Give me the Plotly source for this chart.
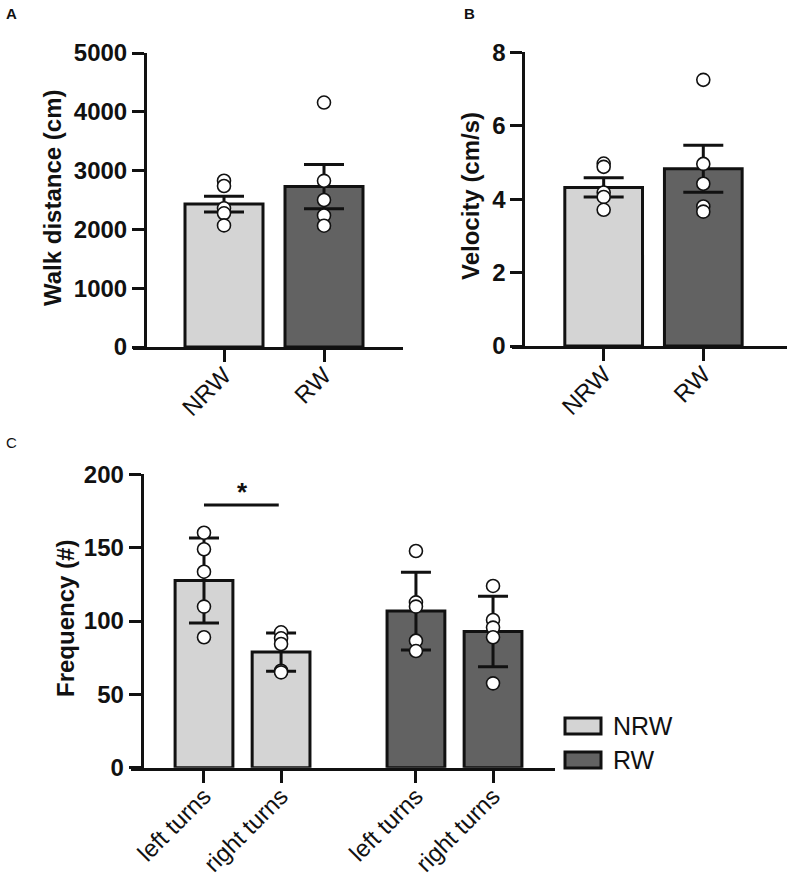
import plotly.graph_objects as go

# panel A: walk distance (cm), mean +/- SEM with individual animals
groups = ["NRW", "RW"]
dist_mean = [2430, 2728]
dist_err = [135, 376]
dist_nrw = [2828, 2738, 2359, 2274, 2068]
dist_rw = [4157, 2826, 2500, 2236, 2063]

# panel B: velocity (cm/s)
vel_mean = [4.32, 4.83]
vel_err = [0.26, 0.64]
vel_nrw = [4.97, 4.88, 4.18, 4.06, 3.71]
vel_rw = [7.25, 4.96, 4.42, 3.80, 3.66]

# panel C: turn frequency (#), mean +/- SD
turns = ["left turns", "right turns"]
freq_nrw_mean = [127.6, 78.8]
freq_nrw_err = [29.0, 13.1]
freq_rw_mean = [106.8, 92.8]
freq_rw_err = [26.5, 24.0]
freq_nrw_pts = [[160.2, 148.9, 133.6, 109.8, 88.9], [92.3, 88.2, 84.3, 66.1, 65.0]]
freq_rw_pts = [[147.7, 112.7, 109.8, 86.6, 79.5], [123.9, 100.7, 95.5, 88.9, 57.5]]
sig_label = "*"

LIGHT = "#d4d4d4"
DARK = "#626262"
EDGE = "#111111"
FONT = "Liberation Sans, Arial, sans-serif"
W, H = 787, 878


def fx(px):
    return px / W


def fy(py):
    return 1 - py / H


def bars(x, y, err, color, cap, xa, ya):
    return go.Bar(
        x=x, y=y, width=0.78 if cap == 20 else 0.75,
        marker=dict(color=color, line=dict(color=EDGE, width=3)),
        error_y=dict(type="data", array=err, thickness=3, width=cap, color=EDGE),
        xaxis=xa, yaxis=ya, hoverinfo="skip",
    )


def dots(x, y, xa, ya):
    return go.Scatter(
        x=[x] * len(y), y=y, mode="markers",
        marker=dict(size=13, color="white", line=dict(color=EDGE, width=1.6)),
        xaxis=xa, yaxis=ya, cliponaxis=False, hoverinfo="skip",
    )


fig = go.Figure()

# A
fig.add_trace(bars(groups, dist_mean, dist_err, [LIGHT, DARK], 20, "x", "y"))
fig.add_trace(dots(groups[0], dist_nrw, "x", "y"))
fig.add_trace(dots(groups[1], dist_rw, "x", "y"))

# B
fig.add_trace(bars(groups, vel_mean, vel_err, [LIGHT, DARK], 20, "x2", "y2"))
fig.add_trace(dots(groups[0], vel_nrw, "x2", "y2"))
fig.add_trace(dots(groups[1], vel_rw, "x2", "y2"))

# C: two groups of two bars with a gap between the groups
group_start = [0, 2.75]
pos_nrw = [group_start[0] + i for i in range(len(turns))]
pos_rw = [group_start[1] + i for i in range(len(turns))]
fig.add_trace(bars(pos_nrw, freq_nrw_mean, freq_nrw_err, LIGHT, 15, "x3", "y3"))
fig.add_trace(bars(pos_rw, freq_rw_mean, freq_rw_err, DARK, 15, "x3", "y3"))
for p, pts in zip(pos_nrw, freq_nrw_pts):
    fig.add_trace(dots(p, pts, "x3", "y3"))
for p, pts in zip(pos_rw, freq_rw_pts):
    fig.add_trace(dots(p, pts, "x3", "y3"))

axis_common = dict(
    showline=True, linewidth=3, linecolor=EDGE, showgrid=False, zeroline=False,
    ticks="outside", ticklen=12, tickwidth=3, tickcolor=EDGE, automargin=False,
)
xfont = dict(family=FONT, size=24, color="#111")
yfont = dict(family=FONT, size=24, color="#111", weight="bold")
xcat = dict(tickangle=-45, tickfont=xfont, ticklabelstandoff=-10)

fig.update_layout(
    width=W, height=H, margin=dict(l=0, r=0, t=0, b=0),
    paper_bgcolor="white", plot_bgcolor="white", showlegend=False,
    xaxis=dict(domain=[fx(133), fx(403)], anchor="y", range=[-0.91, 1.79],
               **xcat, **axis_common),
    yaxis=dict(domain=[fy(347), fy(53)], anchor="free", position=fx(145),
               range=[0, 5000], dtick=1000, tickfont=yfont, **axis_common),
    xaxis2=dict(domain=[fx(512), fx(787)], anchor="y2", range=[-0.92, 1.84],
                **xcat, **axis_common),
    yaxis2=dict(domain=[fy(346), fy(52.3)], anchor="free", position=fx(523.3),
                range=[0, 8], dtick=2, tickfont=yfont, **axis_common),
    xaxis3=dict(domain=[fx(131), fx(555)], anchor="y3", range=[-0.947, 4.554],
                tickvals=pos_nrw + pos_rw, ticktext=turns + turns,
                **xcat, **axis_common),
    yaxis3=dict(domain=[fy(767.7), fy(474.3)], anchor="free", position=fx(141.7),
                range=[0, 200], dtick=50, tickfont=yfont, **axis_common),
)

# significance bar between NRW left and right turns
fig.add_shape(type="line", xref="x3", yref="y3", x0=pos_nrw[0], x1=pos_nrw[1] - 0.03,
              y0=179, y1=179, line=dict(color=EDGE, width=3))
fig.add_annotation(xref="x3", yref="y3", x=(pos_nrw[0] + pos_nrw[1]) / 2, y=179,
                   yanchor="bottom", yshift=-4, text=sig_label, showarrow=False,
                   font=dict(family=FONT, size=26, color="#111", weight="bold"))

# y axis titles
titles = [("Walk distance (cm)", 52, 198), ("Velocity (cm/s)", 470, 196),
          ("Frequency (#)", 65, 619)]
for txt, cx, cy in titles:
    fig.add_annotation(xref="paper", yref="paper", x=fx(cx), y=fy(cy), text=txt,
                       textangle=-90, showarrow=False, xanchor="center", yanchor="middle",
                       font=dict(family=FONT, size=24, color="#111", weight="bold"))

# panel letters
for txt, cx, cy, wt in [("A", 11, 13, "bold"), ("B", 469, 13, "bold"), ("C", 11, 442, "normal")]:
    fig.add_annotation(xref="paper", yref="paper", x=fx(cx), y=fy(cy), text=txt,
                       showarrow=False, xanchor="center", yanchor="middle",
                       font=dict(family=FONT, size=15, color="#111", weight=wt))

# legend for panel C
for name, color, top in [("NRW", LIGHT, 718), ("RW", DARK, 752)]:
    fig.add_shape(type="rect", xref="paper", yref="paper", x0=fx(565), x1=fx(601),
                  y0=fy(top + 16), y1=fy(top), fillcolor=color,
                  line=dict(color=EDGE, width=3))
    fig.add_annotation(xref="paper", yref="paper", x=fx(611), y=fy(top + 8), text=name,
                       showarrow=False, xanchor="left", yanchor="middle",
                       font=dict(family=FONT, size=25, color="#111"))

# drop the default page margin so the figure sits at the window's corner
fig.write_html("out.html", config={"displayModeBar": False},
               post_script="document.body.style.margin='0';")
